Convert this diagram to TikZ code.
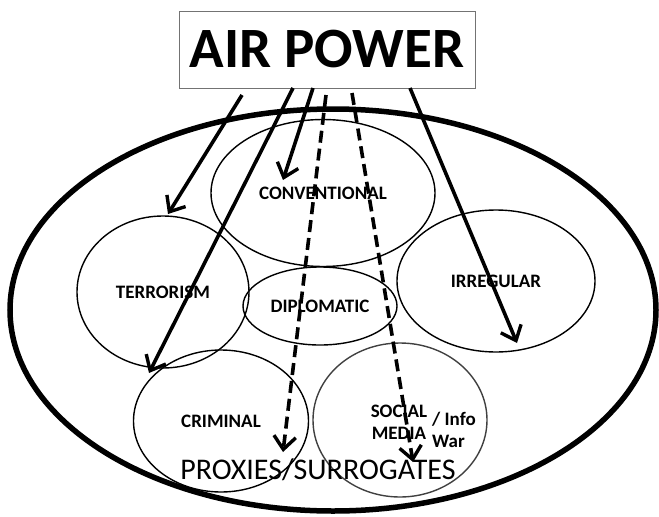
\documentclass[tikz,border=0pt]{standalone}
\usepackage{fontspec}
\setmainfont{Carlito}
\usetikzlibrary{arrows.meta, positioning, shapes.geometric}

\tikzset{
    warfare/.style={ellipse, draw, line width=1.4pt, inner sep=0pt, font=\bfseries\fontsize{19}{22}\selectfont},
    hit/.style={line width=3.6pt, -{Straight Barb[length=13pt,width=22pt,line width=3.4pt]}},
    proxyhit/.style={hit, dash pattern=on 12pt off 6pt}
}

\begin{document}
\begin{tikzpicture}[x=1pt, y=-1pt]
    \useasboundingbox (0,0) rectangle (659,517);

    % Define the title and the outer theatre
    \node (title) at (327,49.5) [draw=black!55, line width=1pt, minimum width=296pt, minimum height=77pt, inner sep=0pt,
        font=\bfseries\fontsize{57}{60}\selectfont] {AIR POWER};
    \node (theatre) at (333,310) [ellipse, draw, line width=5.5pt, minimum width=646pt, minimum height=402pt] {};

    % Define the forms of conflict
    \node (conv) at (323,193) [warfare, minimum width=224pt, minimum height=147pt] {CONVENTIONAL};
    \node (terr) at (163,292) [warfare, minimum width=172pt, minimum height=152pt] {TERRORISM};
    \node (dipl) at (320,306) [warfare, minimum width=154pt, minimum height=78pt] {DIPLOMATIC};
    \node (irr) at (496,281) [warfare, minimum width=198pt, minimum height=142pt] {IRREGULAR};
    \node (crim) at (221,421) [warfare, minimum width=175pt, minimum height=142pt] {CRIMINAL};
    \node (social) at (400,420) [warfare, draw=black!75, minimum width=174pt, minimum height=154pt] {};
    \node (socmed) at (399,422) [font=\bfseries\fontsize{19}{22}\selectfont, align=center, inner sep=0pt] {SOCIAL\\MEDIA};
    \node (info) at (432,430) [anchor=west, font=\bfseries\fontsize{19}{22}\selectfont, align=left, inner sep=0pt] {/ Info\\War};
    \node (proxies) at (318,470) [font=\fontsize{30}{32}\selectfont, inner sep=0pt] {PROXIES/SURROGATES};

    % Define the ends of the arrows
    \coordinate (sTerr) at (242,95);
    \coordinate (eTerr) at (168,214);
    \coordinate (sConv) at (313,88);
    \coordinate (eConv) at (283,180);
    \coordinate (sCrim) at (293,88);
    \coordinate (eCrim) at (149,373);
    \coordinate (sIrr) at (410,88);
    \coordinate (eIrr) at (517,343);
    \coordinate (sProxA) at (326,95);
    \coordinate (eProxA) at (283,452);
    \coordinate (sProxB) at (352,93);
    \coordinate (eProxB) at (413,462);

    % Draw the arrows
    \draw[hit] (sTerr) -- (eTerr);
    \draw[hit] (sConv) -- (eConv);
    \draw[hit] (sCrim) -- (eCrim);
    \draw[hit] (sIrr) -- (eIrr);
    \draw[proxyhit] (sProxA) -- (eProxA);
    \draw[proxyhit] (sProxB) -- (eProxB);

\end{tikzpicture}
\end{document}
